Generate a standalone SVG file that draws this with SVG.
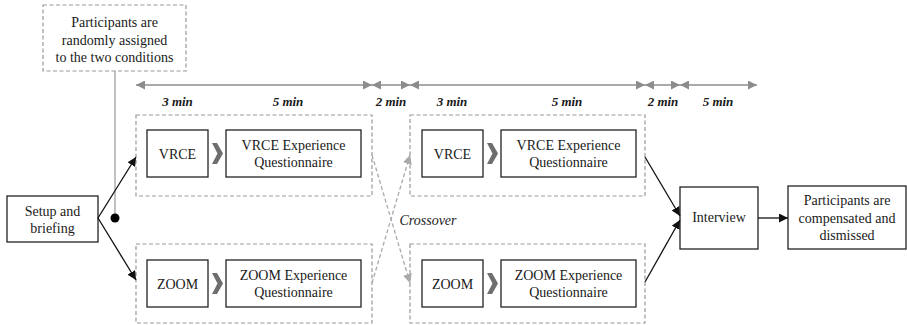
<svg xmlns="http://www.w3.org/2000/svg" width="907" height="325" viewBox="0 0 907 325">
<style>
.x{font-family:'Liberation Serif','Times New Roman',serif;font-size:14px;fill:#1a1a1a;text-anchor:middle}
.t{font-size:13px;font-weight:bold;font-style:italic}
.it{font-style:italic}
.box{fill:#fff;stroke:#222;stroke-width:1.3}
.grp{fill:none;stroke:#999;stroke-width:1.2;stroke-dasharray:4,2.5}
.chev{fill:#6e6e6e}
.tl{stroke:#8c8c8c;stroke-width:1.6;fill:none}
.blk{stroke:#111;stroke-width:1.3;fill:none}
.cx{stroke:#aaa;stroke-width:1.3;stroke-dasharray:4,2.5;fill:none}
</style>
<defs>
<marker id="ga" viewBox="0 0 10 10" refX="10" refY="5" markerWidth="9" markerHeight="9" markerUnits="userSpaceOnUse" orient="auto-start-reverse"><path d="M0,0L10,5L0,10z" fill="#8c8c8c"/></marker>
<marker id="ba" viewBox="0 0 10 10" refX="10" refY="5" markerWidth="9" markerHeight="9" markerUnits="userSpaceOnUse" orient="auto"><path d="M0,0L10,5L0,10z" fill="#111"/></marker>
<marker id="ca" viewBox="0 0 10 10" refX="10" refY="5" markerWidth="9" markerHeight="9" markerUnits="userSpaceOnUse" orient="auto"><path d="M0,0L10,5L0,10z" fill="#aaa"/></marker>
</defs>

<g id="assign">
<rect x="43" y="5" width="143" height="66" class="grp"/>
<text class="x" font-family="Liberation Serif" x="114.5" y="27">Participants are</text>
<text class="x" font-family="Liberation Serif" x="114.5" y="44.5">randomly assigned</text>
<text class="x" font-family="Liberation Serif" x="114.5" y="62">to the two conditions</text>
</g>

<g id="timeline">
<line x1="136" y1="85" x2="372" y2="85" class="tl" marker-start="url(#ga)" marker-end="url(#ga)"/>
<line x1="372" y1="85" x2="410" y2="85" class="tl" marker-start="url(#ga)" marker-end="url(#ga)"/>
<line x1="410" y1="85" x2="645" y2="85" class="tl" marker-start="url(#ga)" marker-end="url(#ga)"/>
<line x1="645" y1="85" x2="680" y2="85" class="tl" marker-start="url(#ga)" marker-end="url(#ga)"/>
<line x1="680" y1="85" x2="757" y2="85" class="tl" marker-start="url(#ga)" marker-end="url(#ga)"/>
<text class="x t" font-family="Liberation Serif" x="177.5" y="105.5">3 min</text>
<text class="x t" font-family="Liberation Serif" x="288" y="105.5">5 min</text>
<text class="x t" font-family="Liberation Serif" x="391" y="105.5">2 min</text>
<text class="x t" font-family="Liberation Serif" x="452" y="105.5">3 min</text>
<text class="x t" font-family="Liberation Serif" x="567" y="105.5">5 min</text>
<text class="x t" font-family="Liberation Serif" x="663" y="105.5">2 min</text>
<text class="x t" font-family="Liberation Serif" x="718" y="105.5">5 min</text>
</g>

<g id="group-left-vrce">
<rect x="136" y="115" width="236" height="81" class="grp"/>
<rect x="147" y="130" width="61" height="47" class="box"/>
<text class="x" font-family="Liberation Serif" x="177.5" y="158.5">VRCE</text>
<polygon class="chev" points="212,143 217,143 223,153.5 217,164 212,164 217.5,153.5"/>
<rect x="226" y="130" width="135" height="47" class="box"/>
<text class="x" font-family="Liberation Serif" x="293.5" y="150">VRCE Experience</text>
<text class="x" font-family="Liberation Serif" x="293.5" y="167">Questionnaire</text>
</g>

<g id="group-left-zoom">
<rect x="136" y="244" width="236" height="79" class="grp"/>
<rect x="147" y="260" width="61" height="47" class="box"/>
<text class="x" font-family="Liberation Serif" x="177.5" y="288.5">ZOOM</text>
<polygon class="chev" points="212,273 217,273 223,283.5 217,294 212,294 217.5,283.5"/>
<rect x="226" y="260" width="135" height="47" class="box"/>
<text class="x" font-family="Liberation Serif" x="293.5" y="280">ZOOM Experience</text>
<text class="x" font-family="Liberation Serif" x="293.5" y="297">Questionnaire</text>
</g>

<g id="group-right-vrce">
<rect x="410" y="115" width="235" height="81" class="grp"/>
<rect x="422" y="130" width="61" height="47" class="box"/>
<text class="x" font-family="Liberation Serif" x="452.5" y="158.5">VRCE</text>
<polygon class="chev" points="487,143 492,143 498,153.5 492,164 487,164 492.5,153.5"/>
<rect x="501" y="130" width="135" height="47" class="box"/>
<text class="x" font-family="Liberation Serif" x="568.5" y="150">VRCE Experience</text>
<text class="x" font-family="Liberation Serif" x="568.5" y="167">Questionnaire</text>
</g>

<g id="group-right-zoom">
<rect x="410" y="244" width="235" height="79" class="grp"/>
<rect x="422" y="260" width="61" height="47" class="box"/>
<text class="x" font-family="Liberation Serif" x="452.5" y="288.5">ZOOM</text>
<polygon class="chev" points="487,273 492,273 498,283.5 492,294 487,294 492.5,283.5"/>
<rect x="501" y="260" width="135" height="47" class="box"/>
<text class="x" font-family="Liberation Serif" x="568.5" y="280">ZOOM Experience</text>
<text class="x" font-family="Liberation Serif" x="568.5" y="297">Questionnaire</text>
</g>

<g id="setup">
<rect x="7" y="196" width="91" height="46" class="box"/>
<text class="x" font-family="Liberation Serif" x="52.5" y="215.5">Setup and</text>
<text class="x" font-family="Liberation Serif" x="52.5" y="233">briefing</text>
</g>

<g id="interview">
<rect x="680" y="187" width="78" height="62" class="box"/>
<text class="x" font-family="Liberation Serif" x="719" y="222">Interview</text>
</g>

<g id="dismissed">
<rect x="788" y="186" width="118" height="63" class="box"/>
<text class="x" font-family="Liberation Serif" x="847" y="205">Participants are</text>
<text class="x" font-family="Liberation Serif" x="847" y="222.5">compensated and</text>
<text class="x" font-family="Liberation Serif" x="847" y="240">dismissed</text>
</g>

<g id="connectors">
<line x1="115" y1="71" x2="115" y2="218" stroke="#999" stroke-width="1.2"/>
<circle cx="115" cy="218" r="4.5" fill="#000"/>
<line x1="98" y1="218" x2="136" y2="157" class="blk" marker-end="url(#ba)"/>
<line x1="98" y1="218" x2="136" y2="280" class="blk" marker-end="url(#ba)"/>
<line x1="372" y1="155" x2="410" y2="283" class="cx" marker-end="url(#ca)"/>
<line x1="372" y1="283" x2="410" y2="155" class="cx" marker-end="url(#ca)"/>
<text class="x it" font-family="Liberation Serif" x="428" y="225">Crossover</text>
<line x1="645" y1="157" x2="680" y2="216" class="blk" marker-end="url(#ba)"/>
<line x1="645" y1="282" x2="680" y2="220" class="blk" marker-end="url(#ba)"/>
<line x1="758" y1="218" x2="788" y2="218" class="blk" marker-end="url(#ba)"/>
</g>
</svg>
